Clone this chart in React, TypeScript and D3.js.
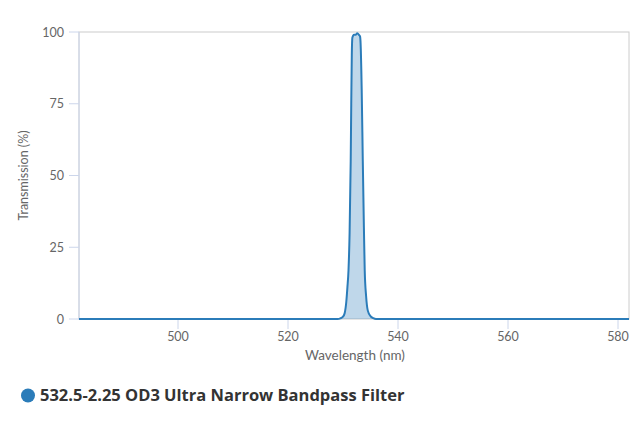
import React, { useEffect, useRef } from 'react';
import * as d3 from 'd3';

// wavelength (nm) and transmission (%)
const wavelengths = [
  482, 529, 529.5, 530, 530.3, 530.6, 530.8, 531.0, 531.2, 531.4, 531.5, 531.6,
  531.7, 532.0, 532.3, 532.6, 532.9, 533.1, 533.2, 533.4, 533.6, 533.8, 533.95,
  534.2, 534.5, 535, 535.5, 536, 582,
];
const transmission = [
  0, 0, 0.2, 0.8, 2, 6, 11, 17, 30, 55, 75, 92,
  98, 99, 99, 99.6, 99, 98.5, 96, 80, 55, 32, 17,
  8, 3, 1, 0.3, 0, 0,
];
const xTicks = [500, 520, 540, 560, 580];
const yTicks = [0, 25, 50, 75, 100];
const seriesName = '532.5-2.25 OD3 Ultra Narrow Bandpass Filter';

const App: React.FC = () => {
  const svgRef = useRef<SVGSVGElement>(null);
  const width = 640;
  const height = 427;

  useEffect(() => {
    if (!svgRef.current) return;
    const svg = d3.select(svgRef.current);
    svg.selectAll('*').remove();

    const margin = { top: 32, right: 11, bottom: 108, left: 79 };
    const plotW = width - margin.left - margin.right;
    const plotH = height - margin.top - margin.bottom;

    const x = d3.scaleLinear().domain([482, 582]).range([0, plotW]);
    const y = d3.scaleLinear().domain([0, 100]).range([plotH, 0]);

    const data = wavelengths.map((w, i) => ({ w, t: transmission[i] }));

    const g = svg.append('g').attr('transform', `translate(${margin.left},${margin.top})`);

    // plot border
    g.append('rect')
      .attr('x', 0).attr('y', 0)
      .attr('width', plotW).attr('height', plotH)
      .attr('fill', 'none')
      .attr('stroke', '#cccccc')
      .attr('stroke-width', 1);

    // x axis ticks
    const xAxis = g.append('g').attr('transform', `translate(0,${plotH})`);
    xTicks.forEach(t => {
      xAxis.append('line')
        .attr('x1', x(t)).attr('x2', x(t))
        .attr('y1', 0).attr('y2', 10)
        .attr('stroke', '#ccd6eb');
      xAxis.append('text')
        .attr('x', x(t)).attr('y', 21.5)
        .attr('text-anchor', 'middle')
        .style('font-family', 'Lato, sans-serif')
        .style('font-size', '12.5px')
        .style('fill', '#666666')
        .text(t);
    });

    // y axis
    const yAxis = g.append('g');
    yAxis.append('line')
      .attr('x1', 0).attr('x2', 0).attr('y1', 0).attr('y2', plotH)
      .attr('stroke', '#ccd6eb');
    yTicks.forEach(t => {
      yAxis.append('line')
        .attr('x1', -10).attr('x2', 0)
        .attr('y1', y(t)).attr('y2', y(t))
        .attr('stroke', '#ccd6eb');
      yAxis.append('text')
        .attr('x', -15).attr('y', y(t) + 4.5)
        .attr('text-anchor', 'end')
        .style('font-family', 'Lato, sans-serif')
        .style('font-size', '12.5px')
        .style('fill', '#666666')
        .text(t);
    });

    // axis titles
    svg.append('text')
      .attr('x', margin.left + plotW / 2 + 1)
      .attr('y', 360)
      .attr('text-anchor', 'middle')
      .style('font-family', 'Lato, sans-serif')
      .style('font-size', '13.5px')
      .style('fill', '#666666')
      .text('Wavelength (nm)');

    svg.append('text')
      .attr('transform', `translate(28,${margin.top + plotH / 2}) rotate(-90)`)
      .attr('text-anchor', 'middle')
      .style('font-family', 'Lato, sans-serif')
      .style('font-size', '12.5px')
      .style('fill', '#666666')
      .text('Transmission (%)');

    // area + line
    const area = d3.area<{ w: number; t: number }>()
      .x(d => x(d.w))
      .y0(y(0))
      .y1(d => y(d.t))
      .curve(d3.curveMonotoneX);
    const line = d3.line<{ w: number; t: number }>()
      .x(d => x(d.w))
      .y(d => y(d.t))
      .curve(d3.curveMonotoneX);

    g.append('path')
      .datum(data)
      .attr('d', area)
      .attr('fill', 'rgba(43,124,185,0.3)');
    g.append('path')
      .datum(data)
      .attr('d', line)
      .attr('fill', 'none')
      .attr('stroke', '#2b7cb9')
      .attr('stroke-width', 2);

    // legend
    svg.append('circle')
      .attr('cx', 28).attr('cy', 395.5).attr('r', 7)
      .attr('fill', '#2b7cb9');
    svg.append('text')
      .attr('x', 40).attr('y', 401)
      .style('font-family', '"Open Sans", sans-serif')
      .style('font-weight', 'bold')
      .style('font-size', '16.5px')
      .style('fill', '#333333')
      .text(seriesName);
  }, []);

  return (
    <svg
      ref={svgRef}
      width={width}
      height={height}
      style={{ position: 'absolute', left: 0, top: 0, background: '#fff' }}
    />
  );
};

export default App;
